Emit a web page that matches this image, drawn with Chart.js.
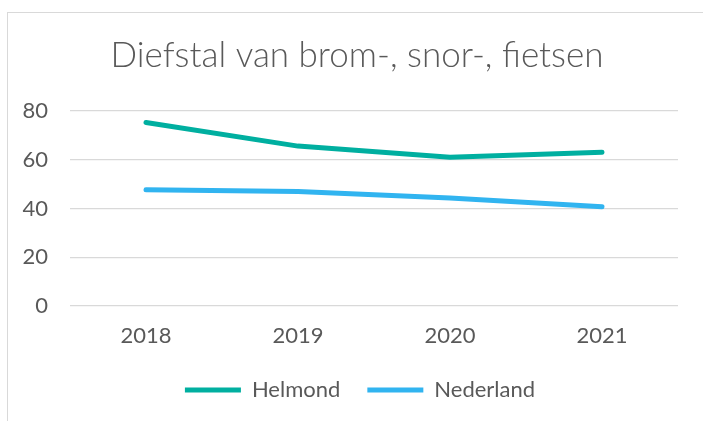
<!DOCTYPE html>
<html>
<head>
<meta charset="utf-8">
<script src="https://cdn.jsdelivr.net/npm/chart.js@4"></script>
<style>
  html, body { margin: 0; padding: 0; background: #fff; }
  #wrap { position: relative; width: 703px; height: 421px; overflow: hidden; }
  #frame { position: absolute; left: 7px; top: 12px; width: 760px; height: 480px; border: 1px solid #d9d9d9; }
  canvas { position: absolute; left: 0; top: 0; }
</style>
</head>
<body>
<div id="wrap">
  <div id="frame"></div>
  <canvas id="lineChart" width="703" height="421"></canvas>
</div>
<script>
// data
const years = ["2018", "2019", "2020", "2021"];
const helmond = [75.3, 65.6, 61.0, 63.1];
const nederland = [47.7, 47.0, 44.3, 40.7];
const yTicks = [0, 20, 40, 60, 80];

const textColor = "#595959";
const fontName = "Lato";

// title and legend sit centred on the whole frame, not on the plot
const shiftBoxes = {
  id: "shiftBoxes",
  afterLayout(chart) {
    chart.titleBlock.left += 18;
    chart.titleBlock.right += 18;
    chart.legend.left += 21;
    chart.legend.right += 21;
  }
};

const ctx = document.getElementById("lineChart").getContext("2d");

new Chart(ctx, {
  type: "line",
  data: {
    labels: years,
    datasets: [
      {
        label: "Helmond",
        data: helmond,
        borderColor: "#00AFA0",
        backgroundColor: "#00AFA0",
        borderWidth: 5,
        borderCapStyle: "round",
        borderJoinStyle: "round",
        pointRadius: 0,
        tension: 0
      },
      {
        label: "Nederland",
        data: nederland,
        borderColor: "#31B4F0",
        backgroundColor: "#31B4F0",
        borderWidth: 5,
        borderCapStyle: "round",
        borderJoinStyle: "round",
        pointRadius: 0,
        tension: 0
      }
    ]
  },
  options: {
    responsive: false,
    animation: false,
    layout: {
      padding: { left: 0, right: 25, top: 0, bottom: 10 }
    },
    plugins: {
      title: {
        display: true,
        text: "Diefstal van brom-, snor-, fietsen",
        color: textColor,
        font: { family: fontName, size: 35, weight: 300, lineHeight: 1.2 },
        padding: { top: 35, bottom: 34 }
      },
      legend: {
        position: "bottom",
        labels: {
          color: textColor,
          font: { family: fontName, size: 22 },
          usePointStyle: true,
          pointStyle: "line",
          pointStyleWidth: 56,
          padding: 27
        }
      },
      tooltip: { enabled: false }
    },
    scales: {
      x: {
        offset: true,
        grid: { display: false, drawTicks: false },
        border: { display: false },
        afterFit: (scale) => {
          scale.height = 46;
        },
        ticks: {
          color: textColor,
          font: { family: fontName, size: 22 },
          padding: 17
        }
      },
      y: {
        min: 0,
        max: 80,
        afterBuildTicks: (scale) => {
          scale.ticks = yTicks.map(v => ({ value: v }));
        },
        afterFit: (scale) => {
          scale.width = 70;
        },
        grid: { color: "#d9d9d9", lineWidth: 1.3, drawTicks: false },
        border: { display: false },
        ticks: {
          color: textColor,
          font: { family: fontName, size: 22 },
          padding: 22
        }
      }
    }
  },
  plugins: [shiftBoxes]
});
</script>
</body>
</html>
